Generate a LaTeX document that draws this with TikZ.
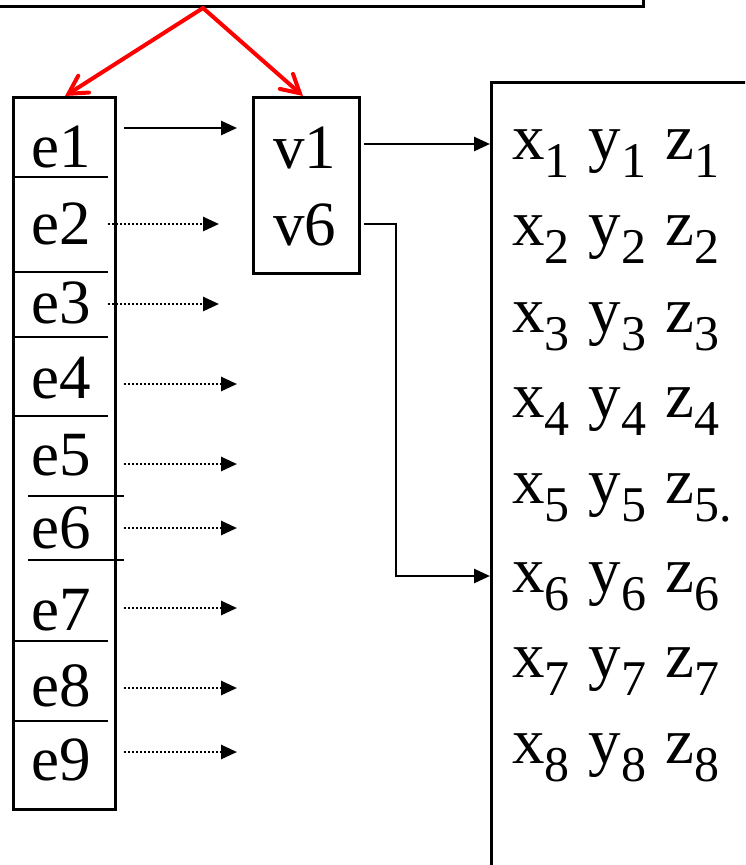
\documentclass[tikz,border=0pt]{standalone}
\usepackage{fontspec}
\setmainfont{Liberation Serif}
\usetikzlibrary{arrows.meta}
\newcommand\sbx[1]{\raisebox{-18pt}{\fontsize{50}{50}\selectfont #1}}
\newcommand\xyzrow[2]{x\sbx{#1}\hspace{19pt}y\sbx{#1}\hspace{19pt}z\sbx{#2}}
\begin{document}
\begin{tikzpicture}[x=1pt,y=-1pt,
  box/.style={draw, line width=2.6pt, inner sep=0pt, anchor=north west},
  lbl/.style={anchor=base west, inner sep=0pt, font=\fontsize{63}{63}\selectfont},
  rowlbl/.style={anchor=base west, inner sep=0pt, font=\fontsize{65}{65}\selectfont},
  sepline/.style={line width=2.6pt},
  link/.style={line width=2.6pt, -{Triangle[length=16pt,width=14pt]}},
  dlink/.style={link, dash pattern=on 2.4pt off 1.6pt},
  redarrow/.style={draw=red, line width=4pt, line cap=round, -{Straight Barb[length=18pt,width=20pt,line cap=round]}}]
\clip (0,0) rectangle (745,865);
\useasboundingbox (0,0) rectangle (745,865);
% top box
\node[box, minimum width=700pt, minimum height=60pt, anchor=south east] (top) at (645,8) {};
% left column
\node[box, minimum width=102pt, minimum height=712pt] (ecol) at (12,96) {};
\foreach \yy in {177,272,337,416,641,721}
  \draw[sepline] (12,\yy) -- (108,\yy);
\draw[sepline] (28,496) -- (124,496);
\draw[sepline] (28,560) -- (124,560);
% e labels
\foreach \i/\yy in {1/167,2/244,3/323,4/398,5/475,6/548,7/630,8/706,9/780}
  \node[lbl] (e\i) at (31,\yy) {e\i};
% v box
\node[box, minimum width=106pt, minimum height=176pt] (vbox) at (252,96) {};
\node[lbl] (v1) at (273,168) {v1};
\node[lbl] (v6) at (273,245) {v6};
% right box
\node[box, minimum width=300pt, minimum height=820pt] (pts) at (490,81) {};
\foreach \i/\yy in {1/159,2/245,3/332,4/417,6/592,7/677,8/763}
  \node[rowlbl] (r\i) at (512,\yy) {\xyzrow{\i}{\i}};
\node[rowlbl] (r5) at (512,503) {\xyzrow{5}{5.}};
% red arrows
\coordinate (src) at (203,8);
\coordinate (etop) at (65,96);
\coordinate (vtop) at (303,96);
\draw[redarrow] (src) -- (etop);
\draw[redarrow] (src) -- (vtop);
% arrows from e column
\coordinate (a1s) at (124,128); \coordinate (a1e) at (237,128);
\draw[link] (a1s) -- (a1e);
\coordinate (a2s) at (108,224); \coordinate (a2e) at (219,224);
\draw[dlink] (a2s) -- (a2e);
\coordinate (a3s) at (108,304); \coordinate (a3e) at (219,304);
\draw[dlink] (a3s) -- (a3e);
\foreach \i/\yy in {4/384,5/464,6/528,7/608,8/688,9/752}{
  \coordinate (a\i s) at (124,\yy); \coordinate (a\i e) at (237,\yy);
  \draw[dlink] (a\i s) -- (a\i e);
}
% v connectors
\coordinate (v1s) at (364,144);
\coordinate (v1e) at (490,144);
\draw[link] (v1s) -- (v1e);
\coordinate (v6s) at (364,224);
\coordinate (v6m) at (396,224);
\coordinate (v6n) at (396,576);
\coordinate (v6e) at (490,576);
\draw[link] (v6s) -- (v6m) -- (v6n) -- (v6e);
\end{tikzpicture}
\end{document}
